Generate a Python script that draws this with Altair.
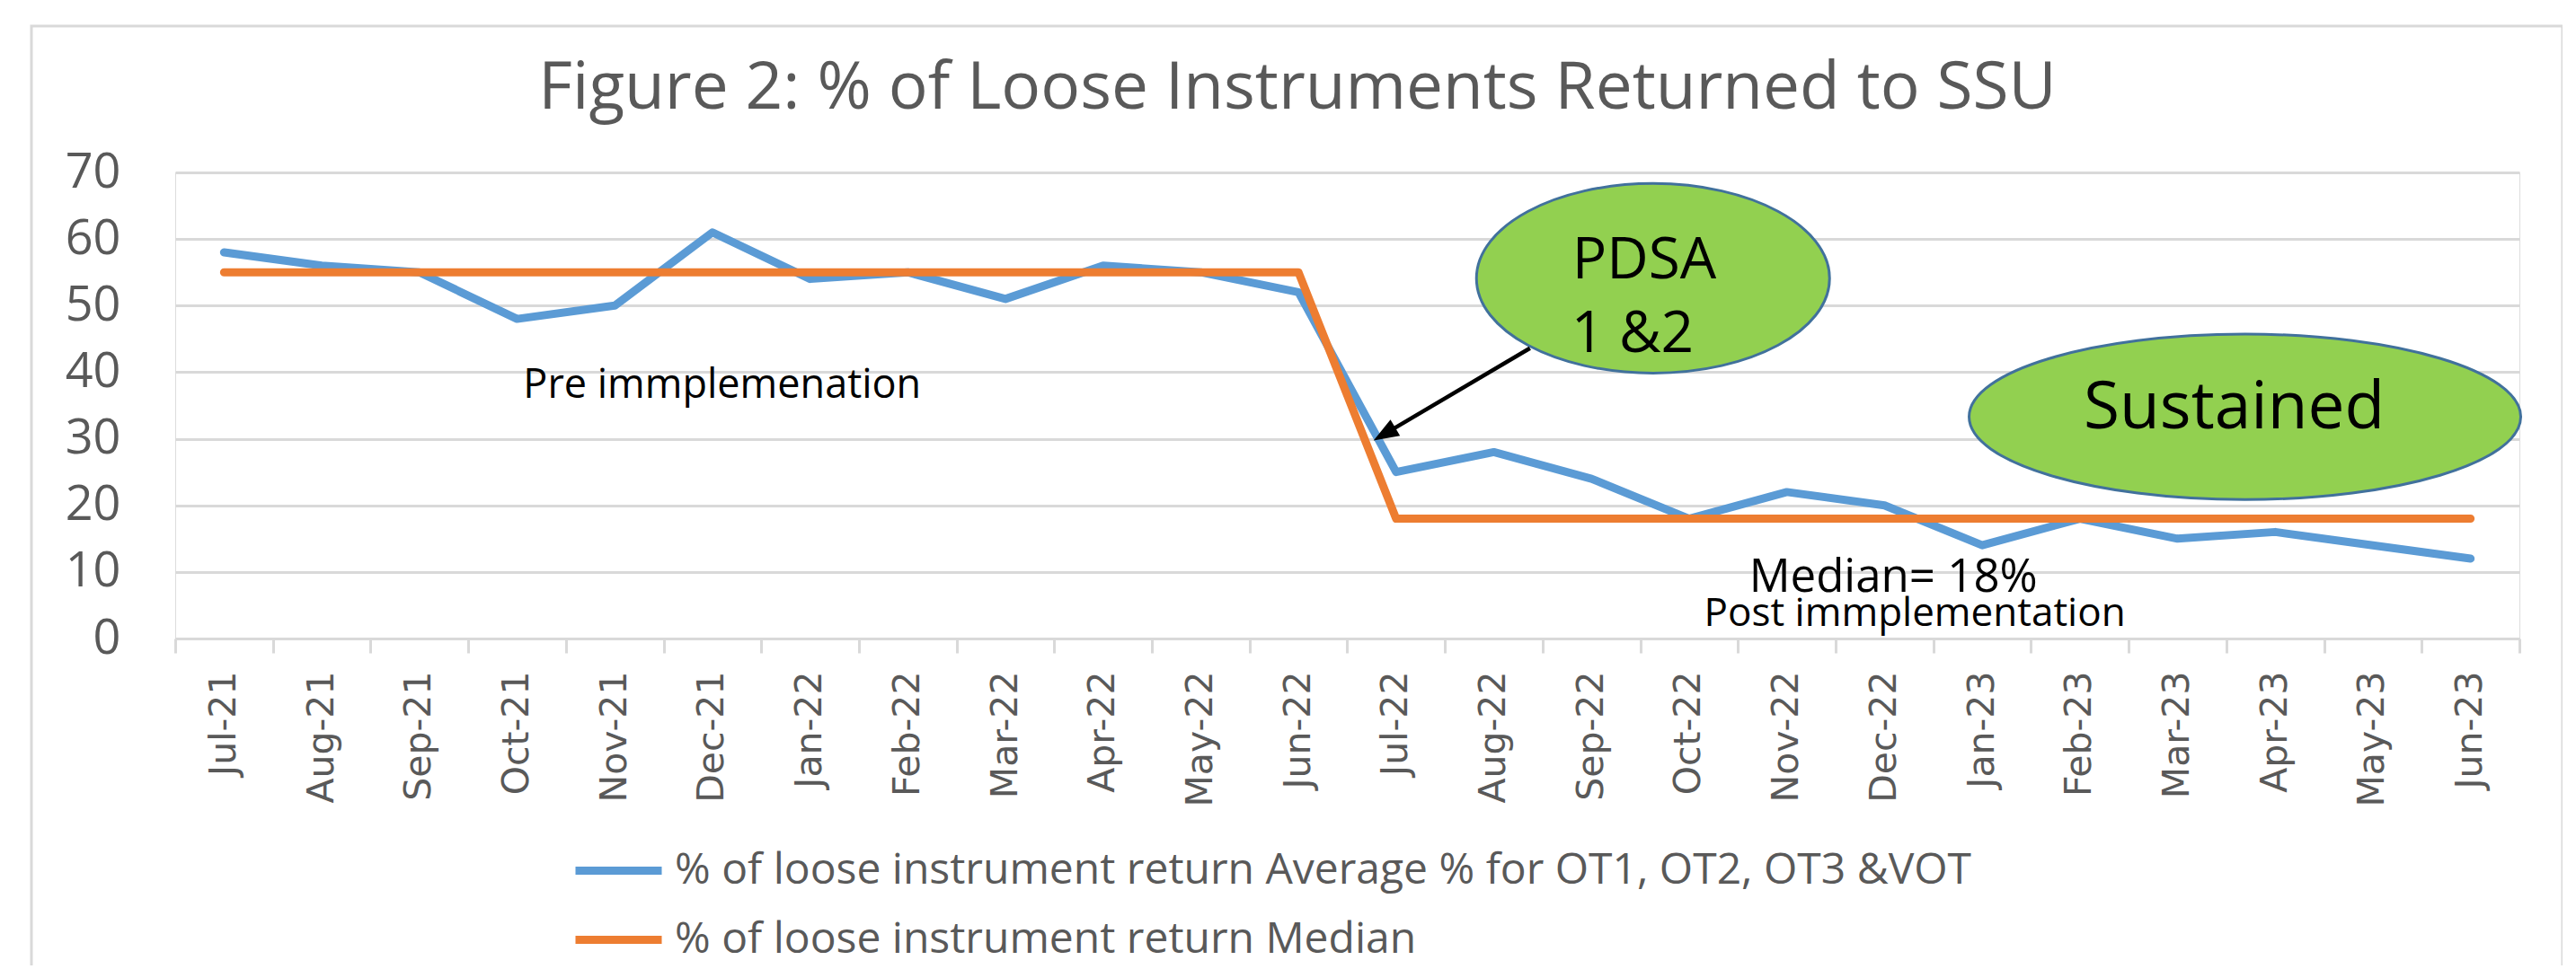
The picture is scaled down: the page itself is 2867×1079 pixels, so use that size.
import altair as alt
import pandas as pd

# ---------------- data ----------------
months = ["Jul-21", "Aug-21", "Sep-21", "Oct-21", "Nov-21", "Dec-21",
          "Jan-22", "Feb-22", "Mar-22", "Apr-22", "May-22", "Jun-22",
          "Jul-22", "Aug-22", "Sep-22", "Oct-22", "Nov-22", "Dec-22",
          "Jan-23", "Feb-23", "Mar-23", "Apr-23", "May-23", "Jun-23"]
average_pct = [58, 56, 55, 48, 50, 61, 54, 55, 51, 56, 55, 52,
               25, 28, 24, 18, 22, 20, 14, 18, 15, 16, 14, 12]
median_pct = [55, 55, 55, 55, 55, 55, 55, 55, 55, 55, 55, 55,
              18, 18, 18, 18, 18, 18, 18, 18, 18, 18, 18, 18]
series_names = ["% of loose instrument return Average % for OT1, OT2, OT3 &VOT",
                "% of loose instrument return Median"]
title_text = "Figure 2: % of Loose Instruments Returned to SSU"

# annotations, in data units (x = month index, y = percent)
note_title = (title_text, 10.99, 79.6)
note_pre = ("Pre immplemenation", 5.10, 36.2)
note_median = ("Median= 18%", 17.09, 7.0)
note_post = ("Post immplementation", 17.31, 1.9)
note_pdsa_1 = ("PDSA", 14.54, 54.1)
note_pdsa_2 = ("1 &2", 14.42, 43.0)
note_sustained = ("Sustained", 20.58, 31.6)
bubble_pdsa = (14.63, 54.1)
bubble_sustained = (20.69, 33.3)
arrow_from = (13.37, 43.6)
arrow_to = (11.88, 30.7)

BLUE = "#5B9BD5"
ORANGE = "#ED7D31"
GRID = "#D9D9D9"
TXT = "#595959"
W, H = 2609, 519
XDOM = [-0.5, 23.5]
YDOM = [0, 70]

df = pd.DataFrame({
    "month": months * 2,
    "val": average_pct + median_pct,
    "series": [series_names[0]] * len(months) + [series_names[1]] * len(months),
})

color = alt.Color(
    "series:N",
    scale=alt.Scale(domain=series_names, range=[BLUE, ORANGE]),
    legend=alt.Legend(
        orient="none", legendX=441, legendY=725, title=None, direction="vertical",
        symbolType="stroke", symbolSize=9216, symbolStrokeWidth=9,
        labelFont="Open Sans", labelFontSize=48, labelColor=TXT,
        rowPadding=-27, labelOffset=10, labelLimit=3000, padding=0,
    ),
)

yaxis = alt.Axis(
    title=None, values=[0, 10, 20, 30, 40, 50, 60, 70], labelFont="Open Sans",
    labelFontSize=54, labelColor=TXT, ticks=False, domain=False,
    gridColor=GRID, gridWidth=3, labelPadding=61,
)

xenc = alt.X(
    "month:O", sort=months,
    scale=alt.Scale(type="band", domain=months, paddingInner=0, paddingOuter=0),
    axis=alt.Axis(
        title=None, labelAngle=-90, labelFont="DejaVu Sans", labelFontSize=41,
        labelColor=TXT, tickBand="extent", tickColor=GRID, tickWidth=3, tickSize=16,
        domainColor=GRID, domainWidth=3, labelPadding=20, grid=False,
    ),
)
yenc = alt.Y("val:Q", scale=alt.Scale(domain=YDOM, nice=False), axis=yaxis)

base = alt.Chart(df)
blue_line = base.transform_filter(alt.datum.series == series_names[0]).mark_line(
    strokeWidth=9, strokeCap="round", strokeJoin="round"
).encode(x=xenc, y=yenc, color=color)
orange_line = base.transform_filter(alt.datum.series == series_names[1]).mark_line(
    strokeWidth=9, strokeCap="round", strokeJoin="round"
).encode(x=xenc, y=yenc, color=color)

main = alt.layer(blue_line, orange_line)

# ---------------- annotations ----------------
def qx(field="ix"):
    return alt.X(f"{field}:Q", scale=alt.Scale(domain=XDOM, nice=False, zero=False), axis=None)

def qy(field="iy"):
    return alt.Y(f"{field}:Q", scale=alt.Scale(domain=YDOM, nice=False), axis=yaxis)

def ellipse_path(ratio):
    return f"M-1,0 A1,{ratio},0,1,1,1,0 A1,{ratio},0,1,1,-1,0 Z"

bubbles = alt.layer(
    alt.Chart(pd.DataFrame({"ix": [bubble_pdsa[0]], "iy": [bubble_pdsa[1]]})).mark_point(
        shape=ellipse_path(0.537), size=393 ** 2, filled=True, fill="#92D050",
        stroke="#41719C", strokeWidth=3, opacity=1,
    ).encode(x=qx(), y=qy()),
    alt.Chart(pd.DataFrame({"ix": [bubble_sustained[0]], "iy": [bubble_sustained[1]]})).mark_point(
        shape=ellipse_path(0.30), size=614 ** 2, filled=True, fill="#92D050",
        stroke="#41719C", strokeWidth=3, opacity=1,
    ).encode(x=qx(), y=qy()),
)

arrow_df = pd.DataFrame({"ix": [arrow_from[0]], "iy": [arrow_from[1]],
                         "ix2": [arrow_to[0]], "iy2": [arrow_to[1]]})
arrow_line = alt.Chart(arrow_df).mark_rule(color="black", strokeWidth=4.5).encode(
    x=qx(), y=qy(), x2="ix2:Q", y2="iy2:Q")
arrow_head = alt.Chart(arrow_df).mark_point(
    shape="M0,-1 L0.75,1 L-0.75,1 Z", size=784, filled=True, fill="black",
    opacity=1, angle=239.5, strokeWidth=0,
).encode(x=qx("ix2"), y=qy("iy2"))


def note(item, size, col="black"):
    d = pd.DataFrame({"t": [item[0]], "ix": [item[1]], "iy": [item[2]]})
    return alt.Chart(d).mark_text(
        font="Open Sans", fontSize=size, color=col, align="center",
        baseline="alphabetic",
    ).encode(x=qx(), y=qy(), text="t:N")


notes = alt.layer(
    note(note_title, 73, TXT),
    note(note_pre, 45), note(note_median, 51), note(note_post, 44),
    note(note_pdsa_1, 64), note(note_pdsa_2, 64), note(note_sustained, 73),
)

frame = alt.Chart(pd.DataFrame({"ix": [0]})).mark_rect(
    filled=False, stroke=GRID, strokeWidth=3
).encode(x=alt.value(-160), x2=alt.value(2657), y=alt.value(-163), y2=alt.value(900))

annot = alt.layer(bubbles, arrow_line, arrow_head, notes)

chart = alt.layer(frame, main, annot).resolve_scale(x="independent").properties(
    width=W, height=H,
    autosize=alt.AutoSizeParams(type="none"),
    padding={"left": 187, "top": 184, "right": 48, "bottom": 364},
).configure_view(stroke=None).configure(background="white")

chart.save("out.html", embed_options={"renderer": "svg", "actions": False})
